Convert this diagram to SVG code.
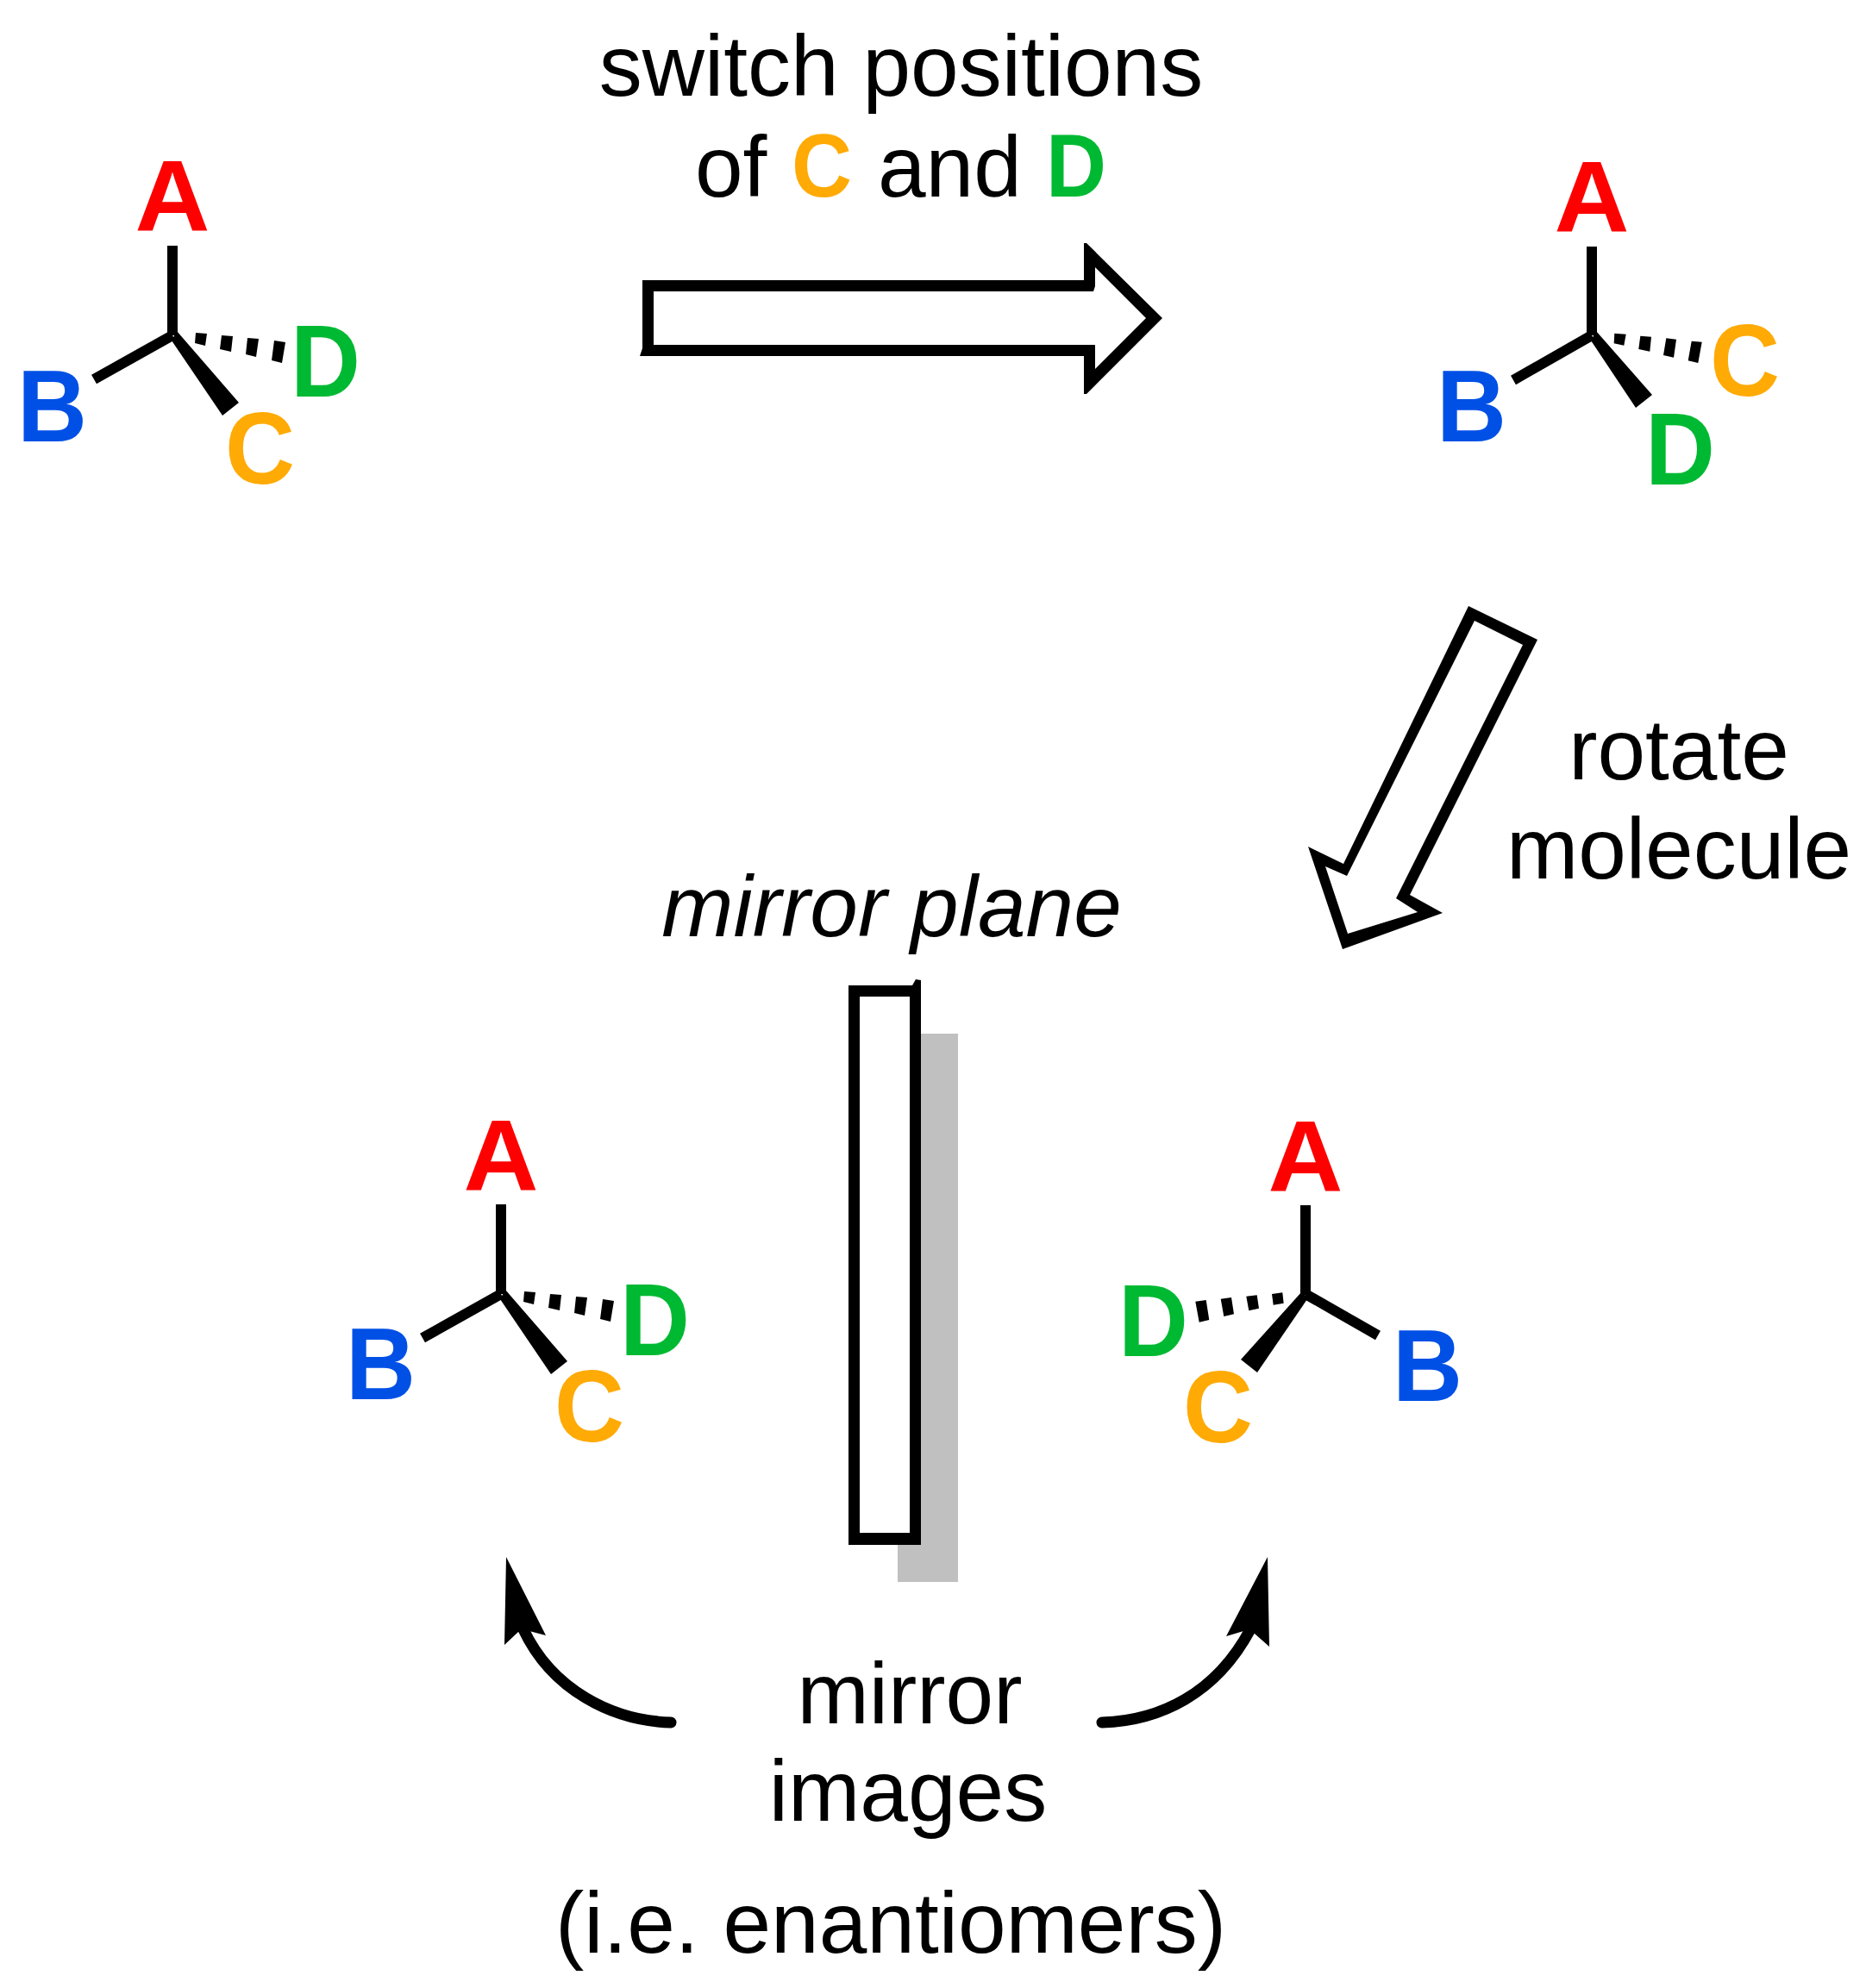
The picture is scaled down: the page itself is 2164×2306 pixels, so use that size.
<svg xmlns="http://www.w3.org/2000/svg" width="2164" height="2306" viewBox="0 0 2164 2306">
<style>
text{font-family:"Liberation Sans",Arial,sans-serif}
.t{font-size:100px;fill:#000;text-anchor:middle}
.s{font-size:100px;fill:#000}
.l{font-size:118px;font-weight:700}
.A{fill:#f00;font-size:117px;text-anchor:middle}.B{fill:#0050e6}.C{fill:#ffaa05}.D{fill:#00b932}
.b{font-weight:700;font-size:103px}
.bond{stroke:#000;stroke-width:12;fill:none}
.sol{fill:#000;fill-rule:evenodd}
.cv{stroke:#000;stroke-width:13;fill:none;stroke-linecap:round}
</style>
<defs>
<g id="skel">
<path class="bond" d="M200,285V389"/>
<path class="bond" d="M109,440L200,389"/>
<path class="sol" d="M205,384L199,395L258,482L277,467Z"/>
<path class="sol" d="M227,386L240,387L238,401L226,398ZM257,389L270,390L268,408L255,405ZM287,392L300,393L297,414L285,411ZM318,395L331,397L327,421L315,418Z"/>
</g>
</defs>
<rect width="2164" height="2306" fill="#fff"/>
<g id="label-switch">
<text class="t" x="1045" y="111">switch positions</text>
<text class="s" x="806" y="228">of</text>
<text class="b C" x="918" y="228" textLength="70" lengthAdjust="spacingAndGlyphs">C</text>
<text class="s" x="1018" y="228">and</text>
<text class="b D" x="1213" y="228" textLength="70" lengthAdjust="spacingAndGlyphs">D</text>
</g>
<g id="label-rotate">
<text class="t" x="1947" y="904">rotate</text>
<text class="t" x="1947" y="1019">molecule</text>
</g>
<text id="label-plane" class="t" x="1034" y="1086" font-style="italic">mirror plane</text>
<g id="label-mirror">
<text class="t" x="1055" y="1999">mirror</text>
<text class="t" x="1053" y="2112">images</text>
<text class="t" x="1033" y="2265">(i.e. enantiomers)</text>
</g>
<g id="mol1">
<use href="#skel"/>
<text class="l A" x="200" y="268" textLength="87" lengthAdjust="spacingAndGlyphs">A</text>
<text class="l B" x="20" y="512" textLength="81" lengthAdjust="spacingAndGlyphs">B</text>
<text class="l C" x="261" y="561" textLength="81" lengthAdjust="spacingAndGlyphs">C</text>
<text class="l D" x="337" y="460" textLength="81" lengthAdjust="spacingAndGlyphs">D</text>
</g>
<g id="mol2">
<path class="bond" d="M1846,286V389"/>
<path class="bond" d="M1755,441L1846,389"/>
<path class="sol" d="M1851,384L1845,395L1897,473L1916,458Z"/>
<path class="sol" d="M1872.3,386.7L1885.7,387.7L1883.3,400.7L1871.7,398.3ZM1902.3,389.7L1915,390.7L1913.3,407.7L1900.3,405ZM1932.3,392.3L1944,393.7L1941,414.7L1929,412ZM1961.7,395.7L1973.7,396.7L1969.3,421L1957.7,418.3Z"/>
<text class="l A" x="1846" y="269" textLength="87" lengthAdjust="spacingAndGlyphs">A</text>
<text class="l B" x="1666" y="512" textLength="81" lengthAdjust="spacingAndGlyphs">B</text>
<text class="l D" x="1908" y="562" textLength="81" lengthAdjust="spacingAndGlyphs">D</text>
<text class="l C" x="1983" y="459" textLength="81" lengthAdjust="spacingAndGlyphs">C</text>
</g>
<g id="mol3">
<use href="#skel" x="381" y="1112"/>
<text class="l A" x="581" y="1381" textLength="87" lengthAdjust="spacingAndGlyphs">A</text>
<text class="l B" x="401" y="1623" textLength="81" lengthAdjust="spacingAndGlyphs">B</text>
<text class="l C" x="643" y="1672" textLength="81" lengthAdjust="spacingAndGlyphs">C</text>
<text class="l D" x="719" y="1572" textLength="81" lengthAdjust="spacingAndGlyphs">D</text>
</g>
<g id="mol4">
<path class="bond" d="M1514,1398V1502"/>
<path class="bond" d="M1598,1549L1514,1501"/>
<path class="sol" d="M1510,1498L1516,1507L1458,1592L1439,1577Z"/>
<path class="sol" d="M1475,1501L1487.3,1499.3L1488.7,1511.7L1476.7,1513.7ZM1445.3,1503.7L1457.7,1502.3L1460,1517.7L1448.3,1520.3ZM1415.7,1506.7L1428,1505L1431,1524.3L1419.3,1527ZM1386.3,1509.7L1398.7,1508L1402.3,1531L1390.7,1533.7Z"/>
<text class="l A" x="1514" y="1382" textLength="87" lengthAdjust="spacingAndGlyphs">A</text>
<text class="l D" x="1297" y="1573" textLength="81" lengthAdjust="spacingAndGlyphs">D</text>
<text class="l C" x="1372" y="1673" textLength="81" lengthAdjust="spacingAndGlyphs">C</text>
<text class="l B" x="1615" y="1625" textLength="81" lengthAdjust="spacingAndGlyphs">B</text>
</g>
<g id="mirror">
<rect x="1041" y="1199" width="70" height="636" fill="#c0c0c0"/>
<rect x="997" y="1156" width="58" height="622" fill="#fff"/>
<path class="sol" d="M984,1143H1058L1062,1136L1068,1137V1792H984ZM997,1156V1778H1055V1156Z"/>
</g>
<g id="connectors">
<path class="sol" d="M745,325H1257V282H1260L1348,369L1260,457H1257V413H742L745,404ZM758,338V400H1270V428L1329,369L1270,310V332L1268,338Z"/>
<path class="sol" d="M1703,703L1783,742L1635,1038L1673,1059L1557,1101L1517,982L1558,1002ZM1710,720L1562,1016L1537,1005L1563,1083L1644,1058L1619,1042L1766,748Z"/>
<path class="cv" d="M778,1998C710,1996 640,1960 607,1890"/>
<path class="sol" d="M587,1806L633,1897L614,1892L601,1893L585,1908Z"/>
<path class="cv" d="M1278,1998C1345,1996 1410,1965 1450,1890"/>
<path class="sol" d="M1470,1806L1422,1898L1442,1892L1455,1895L1472,1910Z"/>
</g>
</svg>
